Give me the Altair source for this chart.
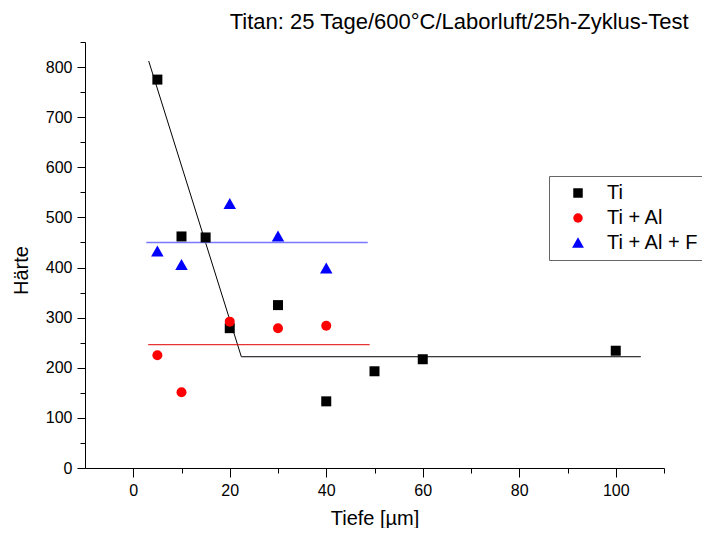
import altair as alt
import pandas as pd

# ---- data ----
series = ["Ti", "Ti + Al", "Ti + Al + F"]
colors = ["#000000", "#ff0000", "#0000ff"]
shapes = ["square", "circle", "M-1.25,1L1.25,1L0,-1.2Z"]

ti_x = [5, 10, 15, 20, 30, 40, 50, 60, 100]
ti_y = [775, 462, 460, 279, 325, 133, 193, 217, 234]
tial_x = [5, 10, 20, 30, 40]
tial_y = [225, 151, 292, 279, 284]
tialf_x = [5, 10, 20, 30, 40]
tialf_y = [432, 405, 527, 462, 398]

fit_x = [3.2, 22.4, 105.2]
fit_y = [812, 222, 222]
blue_line_x = [2.7, 48.6]
blue_line_y = [450, 450]
red_line_x = [3.1, 49.0]
red_line_y = [246, 246]

x_ticks = list(range(0, 111, 10))
y_ticks = list(range(0, 851, 50))

title_text = "Titan: 25 Tage/600°C/Laborluft/25h-Zyklus-Test"

FONT = "Liberation Sans"

# ---- tables ----
pts = pd.concat([
    pd.DataFrame({"x": ti_x, "y": ti_y, "s": series[0]}),
    pd.DataFrame({"x": tial_x, "y": tial_y, "s": series[1]}),
    pd.DataFrame({"x": tialf_x, "y": tialf_y, "s": series[2]}),
], ignore_index=True)

fit_df = pd.DataFrame({"x": fit_x, "y": fit_y})
blue_df = pd.DataFrame({"x": blue_line_x, "y": blue_line_y})
red_df = pd.DataFrame({"x": red_line_x, "y": red_line_y})

xscale = alt.Scale(domain=[-10, 110], nice=False, zero=False)
yscale = alt.Scale(domain=[0, 850], nice=False, zero=False)

xaxis = alt.Axis(
    title="Tiefe [µm]",
    values=x_ticks,
    labelExpr="datum.value % 20 === 0 ? datum.label : ''",
    tickSize={"condition": {"test": "datum.value % 20 === 0", "value": 9}, "value": 5},
    labelPadding=5,
    titleBaseline="alphabetic",
    titleY=56,
    grid=False,
)
yaxis = alt.Axis(
    title="Härte",
    values=y_ticks,
    labelExpr="datum.value % 100 === 0 ? datum.label : ''",
    tickSize={"condition": {"test": "datum.value % 100 === 0", "value": 8}, "value": 5},
    labelPadding=5,
    titleBaseline="alphabetic",
    titleX=-58,
    titleY=228,
    titleAngle=-90,
    grid=False,
)

X = alt.X("x:Q", scale=xscale, axis=xaxis)
Y = alt.Y("y:Q", scale=yscale, axis=yaxis)

fit = alt.Chart(fit_df).mark_line(color="#000000", strokeWidth=1).encode(x=X, y=Y)
blue = alt.Chart(blue_df).mark_line(color="#7777ff", strokeWidth=1.6).encode(x=X, y=Y)
red = alt.Chart(red_df).mark_line(color="#e00000", strokeWidth=1).encode(x=X, y=Y)

points = alt.Chart(pts).mark_point(filled=True, opacity=1, size=100).encode(
    x=X,
    y=Y,
    color=alt.Color("s:N", scale=alt.Scale(domain=series, range=colors), title=None),
    shape=alt.Shape("s:N", scale=alt.Scale(domain=series, range=shapes), title=None),
)

chart = alt.layer(fit, blue, red, points).properties(
    width=579,
    height=426,
    padding={"left": 77, "top": 34, "right": 38, "bottom": 60},
    autosize=alt.AutoSizeParams(type="none"),
    title=alt.TitleParams(
        text=title_text,
        anchor="end",
        dx=-18,
        offset=-9,
        baseline="alphabetic",
        fontSize=22,
        font=FONT,
        fontWeight="normal",
        color="#000000",
    ),
).configure_view(stroke=None).configure_axis(
    domainColor="#000000",
    domainWidth=1,
    tickColor="#000000",
    tickWidth=1,
    labelFont=FONT,
    labelFontSize=16,
    labelColor="#000000",
    titleFont=FONT,
    titleFontSize=20,
    titleFontWeight="normal",
    titleColor="#000000",
).configure_legend(
    orient="none",
    legendX=464,
    legendY=134,
    strokeColor="#666666",
    fillColor="#ffffff",
    padding=7,
    labelFont=FONT,
    labelFontSize=20,
    labelColor="#000000",
    symbolSize=90,
    symbolOffset=12,
    labelOffset=19,
    rowPadding=5,
    symbolStrokeWidth=0,
)

chart.save("out.html", embed_options={"renderer": "svg", "actions": False})
